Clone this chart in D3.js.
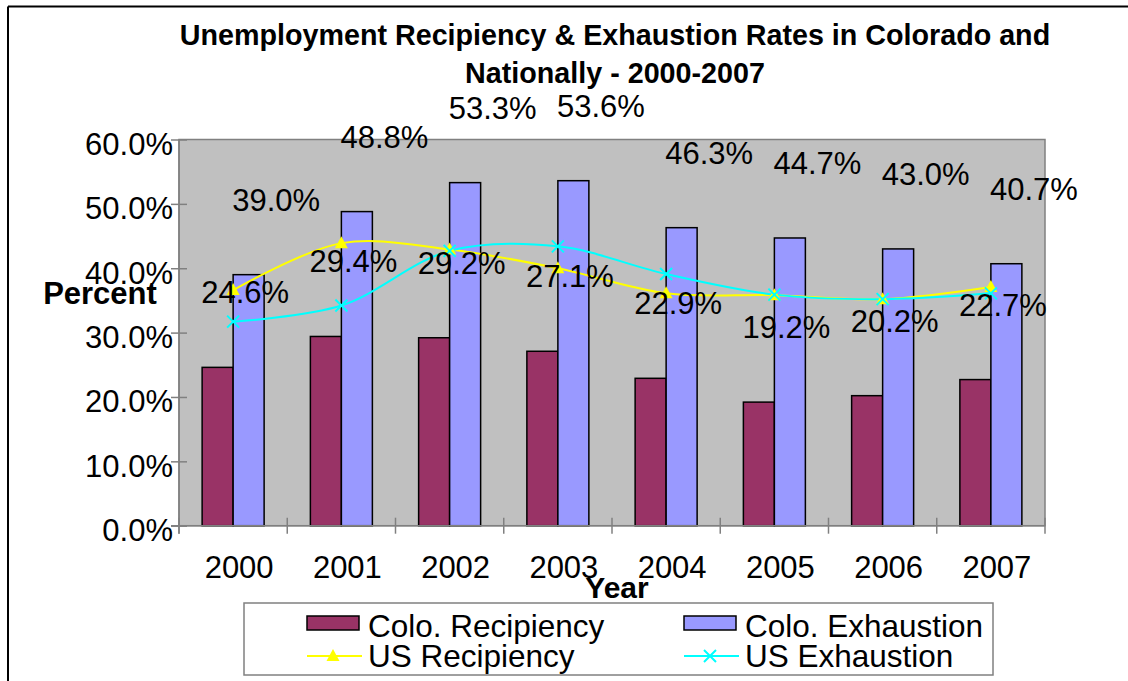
<!DOCTYPE html>
<html>
<head>
<meta charset="utf-8">
<script src="https://cdn.jsdelivr.net/npm/d3@7"></script>
<style>
  html, body { margin: 0; padding: 0; background: #fff; }
  svg { display: block; font-family: "Liberation Sans", Arial, sans-serif; }
</style>
</head>
<body>
<svg id="chart" width="1128" height="681"></svg>
<script>
const years = ["2000", "2001", "2002", "2003", "2004", "2005", "2006", "2007"];
const coloRecipiency = [24.6, 29.4, 29.2, 27.1, 22.9, 19.2, 20.2, 22.7];
const coloExhaustion = [39.0, 48.8, 53.3, 53.6, 46.3, 44.7, 43.0, 40.7];
const usRecipiency = [36.6, 43.9, 42.9, 40.0, 36.1, 35.8, 35.2, 37.1];
const usExhaustion = [31.7, 34.2, 42.7, 43.4, 39.1, 35.9, 35.2, 36.1];
const yTicks = [0, 10, 20, 30, 40, 50, 60];
const titleLines = ["Unemployment Recipiency & Exhaustion Rates in Colorado and", "Nationally - 2000-2007"];
const barSeries = ["Colo. Recipiency", "Colo. Exhaustion"];
const lineSeries = ["US Recipiency", "US Exhaustion"];

const colors = {
  "Colo. Recipiency": "#993366",
  "Colo. Exhaustion": "#9999FF",
  "US Recipiency": "#FFFF00",
  "US Exhaustion": "#00FFFF"
};

const svg = d3.select("#chart");
const plot = { left: 179, right: 1045, top: 139.5, bottom: 525.7 };

// outer frame (top and left edges visible)
svg.append("line").attr("x1", 8).attr("x2", 1128).attr("y1", 6.5).attr("y2", 6.5)
  .attr("stroke", "#000").attr("stroke-width", 2);
svg.append("line").attr("x1", 8).attr("x2", 8).attr("y1", 6.5).attr("y2", 681)
  .attr("stroke", "#000").attr("stroke-width", 2);

const x0 = d3.scaleBand().domain(years).range([plot.left, plot.right]).padding(0);
const x1 = d3.scaleBand().domain(barSeries).range([0, x0.bandwidth()]).paddingInner(0).paddingOuter(0.746);
const y = d3.scaleLinear().domain([0, 60]).range([plot.bottom, plot.top]);

// plot background
svg.append("rect")
  .attr("x", plot.left).attr("y", plot.top)
  .attr("width", plot.right - plot.left).attr("height", plot.bottom - plot.top)
  .attr("fill", "#C0C0C0").attr("stroke", "#808080").attr("stroke-width", 1.5);

// bars
const barData = [coloRecipiency, coloExhaustion];
barSeries.forEach((s, si) => {
  svg.append("g").selectAll("rect").data(barData[si]).join("rect")
    .attr("x", (d, i) => x0(years[i]) + x1(s))
    .attr("y", d => y(d))
    .attr("width", x1.bandwidth())
    .attr("height", d => y(0) - y(d))
    .attr("fill", colors[s])
    .attr("stroke", "#000").attr("stroke-width", 1.5);
});

// axes
const yAxis = d3.axisLeft(y).tickValues(yTicks).tickSize(0).tickFormat(d => d3.format(".1f")(d) + "%");
const gy = svg.append("g").attr("transform", `translate(${plot.left},0)`).call(yAxis);
gy.select(".domain").attr("stroke", "#808080").attr("stroke-width", 1.5)
  .attr("d", `M0,${plot.top}V${plot.bottom + 8}`);
gy.selectAll(".tick line").attr("x1", -8).attr("x2", 8).attr("stroke", "#808080").attr("stroke-width", 1.5);
gy.selectAll(".tick text")
  .attr("x", -6).attr("dy", null).attr("y", 15)
  .attr("font-size", 31).attr("fill", "#000")
  .attr("font-family", "'Liberation Sans', Arial, sans-serif");

const xEdges = d3.scaleLinear().domain([0, years.length]).range([plot.left, plot.right]);
const gx = svg.append("g");
gx.append("line").attr("x1", plot.left - 8).attr("x2", plot.right).attr("y1", plot.bottom).attr("y2", plot.bottom)
  .attr("stroke", "#808080").attr("stroke-width", 1.5);
gx.selectAll("line.tk").data(d3.range(years.length + 1)).join("line").attr("class", "tk")
  .attr("x1", d => xEdges(d)).attr("x2", d => xEdges(d))
  .attr("y1", plot.bottom - 8).attr("y2", plot.bottom + 8)
  .attr("stroke", "#808080").attr("stroke-width", 1.5);
gx.selectAll("text").data(years).join("text")
  .attr("x", d => x0(d) + x0.bandwidth() / 2 + 6)
  .attr("y", 578)
  .attr("text-anchor", "middle").attr("font-size", 31).attr("fill", "#000")
  .text(d => d);

// lines
const lineData = [usRecipiency, usExhaustion];
const cx = i => x0(years[i]) + x0.bandwidth() / 2;
const lineGen = d3.line().x((d, i) => cx(i)).y(d => y(d)).curve(d3.curveCatmullRom.alpha(0.5));
lineSeries.forEach((s, si) => {
  svg.append("path").datum(lineData[si])
    .attr("d", lineGen).attr("fill", "none")
    .attr("stroke", colors[s]).attr("stroke-width", 2);
});

function triangle(g, x, yy, c) {
  g.append("path").attr("d", `M${x},${yy - 7}L${x + 6.5},${yy + 5}L${x - 6.5},${yy + 5}Z`).attr("fill", c);
}
function cross(g, x, yy, c) {
  g.append("path").attr("d", `M${x - 6},${yy - 6}L${x + 6},${yy + 6}M${x - 6},${yy + 6}L${x + 6},${yy - 6}`)
    .attr("stroke", c).attr("stroke-width", 2);
}
const mk = svg.append("g");
usRecipiency.forEach((d, i) => triangle(mk, cx(i), y(d), colors["US Recipiency"]));
usExhaustion.forEach((d, i) => cross(mk, cx(i), y(d), colors["US Exhaustion"]));

// data labels
barSeries.forEach((s, si) => {
  svg.append("g").selectAll("text").data(barData[si]).join("text")
    .attr("x", (d, i) => x0(years[i]) + x1(s) + x1.bandwidth() / 2 + 27.5)
    .attr("y", d => y(d) - 64)
    .attr("text-anchor", "middle").attr("font-size", 31).attr("fill", "#000")
    .text(d => d3.format(".1f")(d) + "%");
});

// title
svg.append("g").selectAll("text").data(titleLines).join("text")
  .attr("x", 615).attr("y", (d, i) => 45 + i * 38)
  .attr("text-anchor", "middle").attr("font-size", 28.7).attr("font-weight", "bold").attr("fill", "#000")
  .text(d => d);

// axis titles
svg.append("text").attr("x", 100).attr("y", 304).attr("text-anchor", "middle")
  .attr("font-size", 31).attr("font-weight", "bold").text("Percent");
svg.append("text").attr("x", 617).attr("y", 598).attr("text-anchor", "middle")
  .attr("font-size", 30).attr("font-weight", "bold").text("Year");

// legend
const lg = svg.append("g");
lg.append("rect").attr("x", 244).attr("y", 603).attr("width", 749).attr("height", 72)
  .attr("fill", "#fff").attr("stroke", "#808080").attr("stroke-width", 1.5);
const legendItems = [
  { name: barSeries[0], type: "bar", col: 0, row: 0 },
  { name: barSeries[1], type: "bar", col: 1, row: 0 },
  { name: lineSeries[0], type: "tri", col: 0, row: 1 },
  { name: lineSeries[1], type: "cross", col: 1, row: 1 }
];
const colX = [307, 684];
const rowY = [623, 656];
legendItems.forEach(it => {
  const lx = colX[it.col], ly = rowY[it.row];
  if (it.type === "bar") {
    lg.append("rect").attr("x", lx).attr("y", ly - 7).attr("width", 52).attr("height", 14)
      .attr("fill", colors[it.name]).attr("stroke", "#000").attr("stroke-width", 1.5);
  } else {
    lg.append("line").attr("x1", lx).attr("x2", lx + 55).attr("y1", ly).attr("y2", ly)
      .attr("stroke", colors[it.name]).attr("stroke-width", 2);
    if (it.type === "tri") triangle(lg, lx + 26, ly, colors[it.name]);
    else cross(lg, lx + 26, ly, colors[it.name]);
  }
  lg.append("text").attr("x", lx + 61).attr("y", ly + (it.row === 0 ? 14 : 11))
    .attr("font-size", 31.5).attr("fill", "#000").text(it.name);
});
</script>
</body>
</html>
